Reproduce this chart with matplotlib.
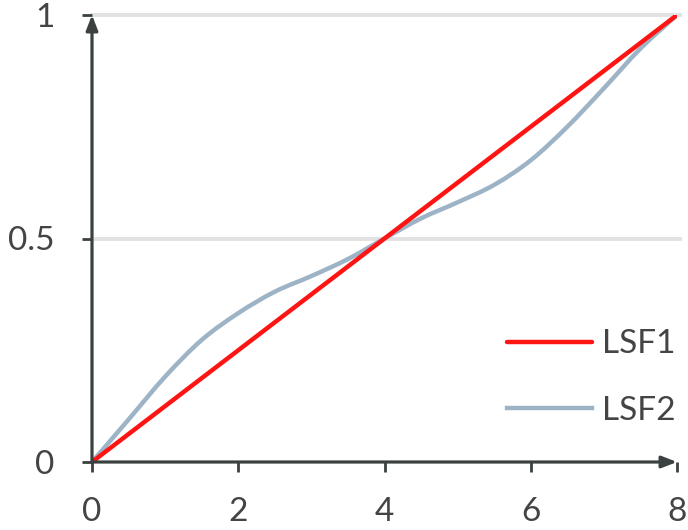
import matplotlib
matplotlib.use("Agg")
import matplotlib.pyplot as plt
from matplotlib.path import Path
from matplotlib.patches import PathPatch

# values
x_lsf1 = [0, 8]
y_lsf1 = [0, 1]

x_lsf2 = [0, 0.5, 1.0, 1.5, 2.0, 2.5, 3.0, 3.5, 4.0,
          4.5, 5.0, 5.5, 6.0, 6.5, 7.0, 7.5, 8.0]
y_lsf2 = [0, 0.095, 0.191, 0.273, 0.333, 0.381, 0.416, 0.454, 0.5,
          0.545, 0.581, 0.620, 0.675, 0.750, 0.836, 0.925, 1.0]

x_ticks = [0, 2, 4, 6, 8]
y_ticks = [0, 0.5, 1]
y_ticklabels = ["0", "0.5", "1"]

axis_col = "#3b4141"
text_col = "#444444"
red = "#ff1414"
blue = "#9db3c6"


def smooth_path(xs, ys):
    # smoothed line through the points (catmull-rom as cubic beziers)
    pts = list(zip(xs, ys))
    n = len(pts)
    verts = [pts[0]]
    codes = [Path.MOVETO]
    for i in range(n - 1):
        p0 = pts[i - 1] if i > 0 else pts[i]
        p1 = pts[i]
        p2 = pts[i + 1]
        p3 = pts[i + 2] if i + 2 < n else pts[i + 1]
        c1 = (p1[0] + (p2[0] - p0[0]) / 6, p1[1] + (p2[1] - p0[1]) / 6)
        c2 = (p2[0] - (p3[0] - p1[0]) / 6, p2[1] - (p3[1] - p1[1]) / 6)
        verts += [c1, c2, p2]
        codes += [Path.CURVE4] * 3
    return Path(verts, codes)


plt.rcParams["font.family"] = ["Lato", "DejaVu Sans"]

fig = plt.figure(figsize=(6.88, 5.30), dpi=100)
ax = fig.add_axes([92 / 688, 68 / 530, 585 / 688, 447 / 530])

# gridlines
for yv in [0.5, 1]:
    ax.axhline(yv, xmin=0, xmax=1.005, color="#e2e2e2", lw=2.8, zorder=1, clip_on=False)

ax.plot(x_lsf1, y_lsf1, color=red, lw=3.2, label="LSF1", zorder=3,
        solid_capstyle="round")
ax.add_patch(PathPatch(smooth_path(x_lsf2, y_lsf2), facecolor="none",
                       edgecolor=blue, lw=3.2, zorder=2, capstyle="round"))
ax.plot([], [], color=blue, lw=3.2, label="LSF2")

ax.set_xlim(0, 8)
ax.set_ylim(0, 1)

for s in ["top", "right", "left", "bottom"]:
    ax.spines[s].set_visible(False)

# axes with arrow heads
arrow = dict(arrowstyle="-|>,head_length=0.9,head_width=0.35", color=axis_col,
             lw=2.3, shrinkA=0, shrinkB=0)
ax.annotate("", xy=(1.0, 0), xytext=(0, 0), xycoords="axes fraction",
            arrowprops=arrow, zorder=4, annotation_clip=False)
ax.annotate("", xy=(0, 1.0), xytext=(0, 0), xycoords="axes fraction",
            arrowprops=arrow, zorder=4, annotation_clip=False)

ax.set_xticks(x_ticks)
ax.set_yticks(y_ticks)
ax.set_yticklabels(y_ticklabels)
ax.tick_params(axis="x", direction="out", length=7, width=2, color=axis_col,
               labelsize=24, labelcolor=text_col, pad=18)
ax.tick_params(axis="y", direction="out", length=7, width=2, color=axis_col,
               labelsize=24, labelcolor=text_col, pad=20)

ax.legend(loc="center left", bbox_to_anchor=(0.709, 0.189), frameon=False,
          fontsize=24, handlelength=2.55, handletextpad=0.3, labelspacing=1.1,
          borderpad=0, borderaxespad=0, labelcolor=text_col)

fig.savefig("out.png", dpi=100)
